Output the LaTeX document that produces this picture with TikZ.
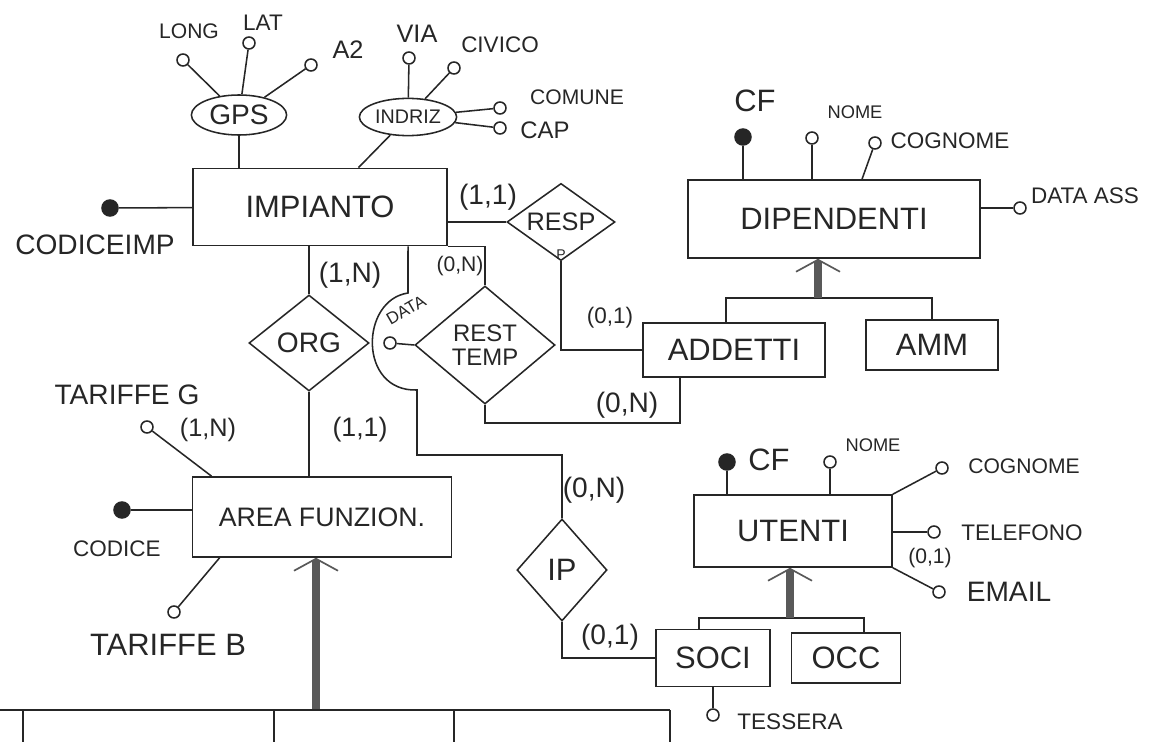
\documentclass[tikz,border=0pt]{standalone}
\usepackage{fontspec}
\setmainfont{Liberation Sans}
\usetikzlibrary{shapes.geometric, arrows.meta}
\newcommand\fsz[1]{\fontsize{#1}{#1}\selectfont}

\begin{document}
\begin{tikzpicture}
    [
      x=0.025cm,
      y=-0.025cm,
      line width=1.1pt,
      color=black!85,
      ent/.style={rectangle,draw,font=\fsz{22},inner sep=2pt},
      rel/.style={diamond,draw,font=\fsz{18},inner sep=0pt,align=center},
      comp/.style={ellipse,draw,inner sep=0pt},
      attr/.style={circle,draw,fill=white,minimum size=0.3cm,inner sep=0pt},
      key/.style={attr,fill=black!85,minimum size=0.4cm},
      lab/.style={font=\fsz{15},inner sep=0pt},
      card/.style={font=\fsz{18},inner sep=0pt},
      gen/.style={line width=5pt,draw=black!65,-{Straight Barb[length=0.3cm,width=1.1cm,line width=1.2pt]}},
    ]
    \useasboundingbox (0,0) rectangle (1160,742);

    \node at (320, 207) [ent, minimum width=6.35cm, minimum height=1.93cm] (imp) {IMPIANTO};
    \node at (834, 219) [ent, minimum width=7.3cm, minimum height=1.95cm] (dip) {DIPENDENTI};
    \node at (734, 350) [ent, minimum width=4.55cm, minimum height=1.35cm] (add) {ADDETTI};
    \node at (932, 345) [ent, minimum width=3.3cm, minimum height=1.25cm] (amm) {AMM};
    \node at (322, 517) [ent, minimum width=6.48cm, minimum height=2cm, font=\fsz{19}] (area) {AREA FUNZION.};
    \node at (793, 531) [ent, minimum width=4.95cm, minimum height=1.8cm] (ute) {UTENTI};
    \node at (713, 658) [ent, minimum width=2.85cm, minimum height=1.43cm] (soci) {SOCI};
    \node at (846, 658) [ent, minimum width=2.73cm, minimum height=1.25cm] (occ) {OCC};

    \node at (561, 222) [rel, minimum width=2.7cm, minimum height=1.93cm, shape aspect=1.5,
      label={[font=\fsz{10},anchor=south,inner sep=1pt]south:P}] (resp) {RESP};
    \node at (309, 343) [rel, minimum width=3cm, minimum height=2.4cm, font=\fsz{20}] (org) {ORG};
    \node at (485, 345) [rel, minimum width=3.5cm, minimum height=2.95cm, font=\fsz{17}] (rest) {REST\\TEMP};
    \node at (562, 570) [rel, minimum width=2.25cm, minimum height=2.55cm, font=\fsz{22}] (ip) {IP};

    \node at (239, 115) [comp, minimum width=2.38cm, minimum height=1cm, font=\fsz{20}] (gps) {GPS};
    \node at (408, 117) [comp, minimum width=2.43cm, minimum height=0.93cm, font=\fsz{14}] (ind) {INDRIZ};

    \node at (183, 60)  [attr] (long) {};
    \node at (249, 43)  [attr] (lat) {};
    \node at (311, 65)  [attr] (az) {};
    \node at (409, 58)  [attr] (via) {};
    \node at (454, 68)  [attr] (civ) {};
    \node at (500, 108) [attr] (com) {};
    \node at (500, 128) [attr] (cap) {};
    \node at (110, 208) [key]  (codimp) {};
    \node at (743, 137) [key]  (dcf) {};
    \node at (812, 138) [attr] (dnome) {};
    \node at (875, 143) [attr] (dcog) {};
    \node at (1020, 208) [attr] (ddata) {};
    \node at (390, 343) [attr] (data) {};
    \node at (147, 427) [attr] (targ) {};
    \node at (122, 510) [key]  (cod) {};
    \node at (174, 612) [attr] (tarb) {};
    \node at (727, 462) [key]  (ucf) {};
    \node at (830, 462) [attr] (unome) {};
    \node at (942, 468) [attr] (ucog) {};
    \node at (934, 532) [attr] (utel) {};
    \node at (939, 592) [attr] (umail) {};
    \node at (713, 715) [attr] (tess) {};

    \node at (189, 31)  [lab] (longl) {LONG};
    \node at (263, 23)  [lab, font=\fsz{16}] (latl) {LAT};
    \node at (348, 50)  [lab, font=\fsz{18}] (azl) {A2};
    \node at (417, 34)  [lab, font=\fsz{18}] (vial) {VIA};
    \node at (500, 45)  [lab, font=\fsz{16}] (civl) {CIVICO};
    \node at (577, 97)  [lab] (coml) {COMUNE};
    \node at (545, 130) [lab, font=\fsz{17}] (capl) {CAP};
    \node at (95, 245)  [lab, font=\fsz{20}] (codimpl) {CODICEIMP};
    \node at (755, 101) [lab, font=\fsz{22}] (dcfl) {CF};
    \node at (855, 112) [lab, font=\fsz{13}] (dnomel) {NOME};
    \node at (950, 141) [lab, font=\fsz{16}] (dcogl) {COGNOME};
    \node at (1085, 196) [lab, font=\fsz{16}] (ddatal) {DATA ASS};
    \node at (406, 310) [lab, font=\fsz{12}, rotate=30] (datal) {DATA};
    \node at (127, 395) [lab, font=\fsz{20}] (targl) {TARIFFE G};
    \node at (117, 549) [lab, font=\fsz{16}] (codl) {CODICE};
    \node at (168, 645) [lab, font=\fsz{22}] (tarbl) {TARIFFE B};
    \node at (769, 460) [lab, font=\fsz{22}] (ucfl) {CF};
    \node at (873, 445) [lab, font=\fsz{13}] (unomel) {NOME};
    \node at (1024, 466) [lab] (ucogl) {COGNOME};
    \node at (1022, 533) [lab, font=\fsz{16}] (utell) {TELEFONO};
    \node at (1009, 592) [lab, font=\fsz{20}] (umaill) {EMAIL};
    \node at (790, 722) [lab, font=\fsz{16}] (tessl) {TESSERA};

    \node at (488, 197) [card, font=\fsz{20}] (c1) {(1,1)};
    \node at (350, 275) [card, font=\fsz{20}] (c2) {(1,N)};
    \node at (460, 266) [card, font=\fsz{15}] (c3) {(0,N)};
    \node at (610, 318) [card, font=\fsz{16}] (c4) {(0,1)};
    \node at (627, 405) [card, font=\fsz{20}] (c5) {(0,N)};
    \node at (360, 430) [card, font=\fsz{19}] (c6) {(1,1)};
    \node at (208, 430) [card] (c7) {(1,N)};
    \node at (594, 490) [card, font=\fsz{20}] (c8) {(0,N)};
    \node at (610, 637) [card, font=\fsz{20}] (c9) {(0,1)};
    \node at (930, 558) [card, font=\fsz{15}] (c10) {(0,1)};

    \draw (long) -- (gps);
    \draw (lat) -- (gps);
    \draw (az) -- (gps);
    \draw (gps.south) -- (gps.south |- imp.north);
    \draw (via) -- (ind);
    \draw (civ) -- (ind);
    \draw (com) -- (ind);
    \draw (cap) -- (ind);
    \draw (ind) -- (imp);
    \draw (codimp) -- (imp);

    \draw (resp.west) -- (resp.west -| imp.east);
    \draw (resp.south) |- (add.west);
    \draw (org.north) -- (org.north |- imp.south);
    \draw (imp.south east) -| (rest.north);
    \draw ([xshift=2.2cm]imp.south) -- (408, 293) .. controls (360, 300) and (358, 392) .. (417, 390) -- (417, 455) -| (ip.north);
    \draw (data) -- (rest.west);
    \draw (rest.south) -- ++(0, 18) -| ([xshift=-1.35cm]add.south);
    \draw (org.south) -- (org.south |- area.north);
    \draw (targ) -- ([xshift=0.5cm]area.north west);
    \draw (cod) -- (area.west |- cod);
    \draw (tarb) -- ([xshift=0.7cm]area.south west);
    \draw (ip.south) |- (soci.west);

    \draw (dcf) -- (dcf |- dip.north);
    \draw (dnome) -- (dnome |- dip.north);
    \draw (dcog) -- ([xshift=0.7cm]dip.north);
    \draw (ddata) -- (ddata -| dip.east);
    \coordinate (dbar) at (818, 298);
    \draw ([xshift=-0.2cm]add.north) |- (dbar) -| (amm.north);
    \draw[gen] (dbar) -- (dbar |- dip.south);

    \draw (ucf) -- (ucf |- ute.north);
    \draw (unome) -- (unome |- ute.north);
    \draw (ucog) -- (ute.north east);
    \draw (utel) -- (utel -| ute.east);
    \draw (umail) -- (ute.south east);
    \coordinate (ubar) at (790, 618);
    \draw ([xshift=-0.35cm]soci.north) |- (ubar) -| ([xshift=0.45cm]occ.north);
    \draw[gen] (ubar) -- (ubar |- ute.south);
    \draw (tess) -- (tess |- soci.south);

    \coordinate (abar) at (316, 710);
    \draw[gen] (abar) -- (abar |- area.south);
    \draw (0, 710) -- (670, 710);
    \foreach \x in {23, 274, 454, 670} \draw (\x, 710) -- (\x, 742);
  \end{tikzpicture}
\end{document}
